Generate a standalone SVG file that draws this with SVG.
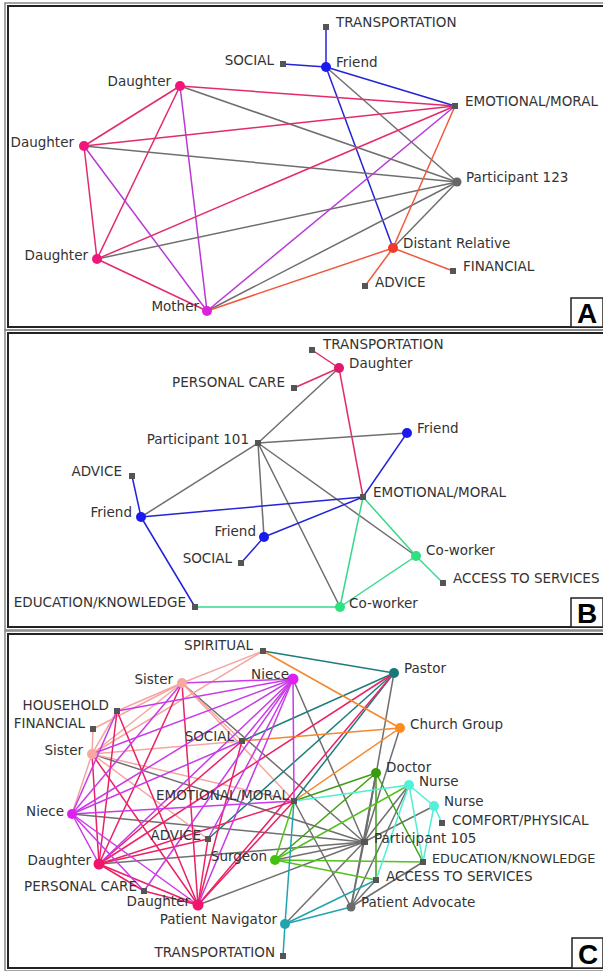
<svg xmlns="http://www.w3.org/2000/svg" width="603" height="971" viewBox="0 0 603 971">
<style>
text{font-family:"DejaVu Sans",Verdana,sans-serif;font-size:13.5px;fill:#333}
.e{text-anchor:end}
line{stroke-width:1.5;fill:none}
.g{stroke:#6f6f6f}
.bl{stroke:#2323d8}
.pk{stroke:#e42a6c}
.pu{stroke:#b838d8}
.rd{stroke:#f2583e}
.gr{stroke:#35d88c}
.sa{stroke:#f5a6a0}
.ni{stroke:#c93ae8}
.dg{stroke:#ec2064}
.te{stroke:#1f7c7c}
.or{stroke:#f5872c}
.dr{stroke:#3f9e14}
.sg{stroke:#52c21e}
.aq{stroke:#50eed2}
.pn{stroke:#20a3ae}
.sq{fill:#555}
.frame{fill:none;stroke:#222;stroke-width:2}
.frame2{fill:none;stroke:#888;stroke-width:1.5}
.lbox{fill:#fff;stroke:#222;stroke-width:1.5}
.big{font-family:"Liberation Sans",Arial,sans-serif;font-weight:bold;font-size:28px;fill:#000}
</style>
<rect x="0" y="0" width="603" height="971" fill="#fff"/>
<g id="frames">
<rect class="frame2" x="5" y="3" width="600" height="327"/>
<rect class="frame" x="8" y="6" width="596" height="321"/>
<rect class="frame2" x="5" y="330" width="600" height="300"/>
<rect class="frame" x="8" y="333" width="596" height="294"/>
<rect class="frame2" x="5" y="631" width="600" height="340"/>
<rect class="frame" x="8" y="634" width="596" height="334"/>
<rect class="lbox" x="571" y="298" width="32" height="29"/>
<text class="big" x="587" y="323" text-anchor="middle">A</text>
<rect class="lbox" x="571" y="598" width="32" height="29"/>
<text class="big" x="587" y="623" text-anchor="middle">B</text>
<rect class="lbox" x="572" y="938" width="31" height="30"/>
<text class="big" x="588" y="964" text-anchor="middle">C</text>
</g>
<g id="connectors">
<line class="bl" x1="326" y1="67" x2="326" y2="27"/>
<line class="bl" x1="326" y1="67" x2="283" y2="64"/>
<line class="bl" x1="326" y1="67" x2="455" y2="106"/>
<line class="bl" x1="326" y1="67" x2="393" y2="248"/>
<line class="g" x1="326" y1="67" x2="457" y2="182"/>
<line class="pk" x1="180" y1="86" x2="455" y2="106"/>
<line class="g" x1="180" y1="86" x2="457" y2="182"/>
<line class="pk" x1="180" y1="86" x2="84" y2="146"/>
<line class="pk" x1="180" y1="86" x2="97" y2="259"/>
<line class="pu" x1="180" y1="86" x2="207" y2="311"/>
<line class="pk" x1="84" y1="146" x2="455" y2="106"/>
<line class="g" x1="84" y1="146" x2="457" y2="182"/>
<line class="pk" x1="84" y1="146" x2="97" y2="259"/>
<line class="pu" x1="84" y1="146" x2="207" y2="311"/>
<line class="pk" x1="97" y1="259" x2="455" y2="106"/>
<line class="g" x1="97" y1="259" x2="457" y2="182"/>
<line class="pk" x1="97" y1="259" x2="207" y2="311"/>
<line class="pu" x1="207" y1="311" x2="455" y2="106"/>
<line class="g" x1="207" y1="311" x2="457" y2="182"/>
<line class="rd" x1="207" y1="311" x2="393" y2="248"/>
<line class="rd" x1="393" y1="248" x2="455" y2="106"/>
<line class="g" x1="393" y1="248" x2="457" y2="182"/>
<line class="rd" x1="393" y1="248" x2="453" y2="271"/>
<line class="rd" x1="393" y1="248" x2="365" y2="286"/>
<line class="pk" x1="339" y1="368" x2="312" y2="350"/>
<line class="pk" x1="339" y1="368" x2="294" y2="388"/>
<line class="pk" x1="339" y1="368" x2="363" y2="497"/>
<line class="g" x1="339" y1="368" x2="258" y2="443"/>
<line class="g" x1="258" y1="443" x2="407" y2="433"/>
<line class="g" x1="258" y1="443" x2="141" y2="517"/>
<line class="g" x1="258" y1="443" x2="264" y2="537"/>
<line class="g" x1="258" y1="443" x2="340" y2="607"/>
<line class="g" x1="258" y1="443" x2="416" y2="556"/>
<line class="bl" x1="407" y1="433" x2="363" y2="497"/>
<line class="bl" x1="141" y1="517" x2="363" y2="497"/>
<line class="bl" x1="141" y1="517" x2="132" y2="476"/>
<line class="bl" x1="141" y1="517" x2="195" y2="607"/>
<line class="bl" x1="264" y1="537" x2="363" y2="497"/>
<line class="bl" x1="264" y1="537" x2="241" y2="563"/>
<line class="gr" x1="363" y1="497" x2="416" y2="556"/>
<line class="gr" x1="363" y1="497" x2="340" y2="607"/>
<line class="gr" x1="416" y1="556" x2="340" y2="607"/>
<line class="gr" x1="416" y1="556" x2="443" y2="583"/>
<line class="gr" x1="340" y1="607" x2="195" y2="607"/>
<line class="g" x1="394" y1="673" x2="364" y2="842"/>
<line class="g" x1="400" y1="728" x2="364" y2="842"/>
<line class="g" x1="293" y1="679" x2="364" y2="842"/>
<line class="g" x1="182" y1="683" x2="364" y2="842"/>
<line class="g" x1="92" y1="754" x2="364" y2="842"/>
<line class="g" x1="72" y1="814" x2="364" y2="842"/>
<line class="g" x1="99" y1="864" x2="364" y2="842"/>
<line class="g" x1="198" y1="905" x2="364" y2="842"/>
<line class="g" x1="376" y1="773" x2="364" y2="842"/>
<line class="g" x1="275" y1="860" x2="364" y2="842"/>
<line class="g" x1="409" y1="785" x2="364" y2="842"/>
<line class="g" x1="434" y1="806" x2="364" y2="842"/>
<line class="g" x1="285" y1="924" x2="364" y2="842"/>
<line class="g" x1="351" y1="907" x2="364" y2="842"/>
<line class="g" x1="351" y1="907" x2="294" y2="801"/>
<line class="g" x1="351" y1="907" x2="376" y2="880"/>
<line class="g" x1="351" y1="907" x2="423" y2="862"/>
<line class="g" x1="351" y1="907" x2="376" y2="773"/>
<line class="g" x1="351" y1="907" x2="409" y2="785"/>
<line class="sa" x1="182" y1="683" x2="263" y2="651"/>
<line class="sa" x1="182" y1="683" x2="117" y2="711"/>
<line class="sa" x1="182" y1="683" x2="93" y2="729"/>
<line class="sa" x1="182" y1="683" x2="92" y2="754"/>
<line class="sa" x1="182" y1="683" x2="294" y2="801"/>
<line class="sa" x1="182" y1="683" x2="242" y2="741"/>
<line class="sa" x1="92" y1="754" x2="263" y2="651"/>
<line class="sa" x1="92" y1="754" x2="93" y2="729"/>
<line class="sa" x1="92" y1="754" x2="117" y2="711"/>
<line class="sa" x1="92" y1="754" x2="294" y2="801"/>
<line class="sa" x1="92" y1="754" x2="242" y2="741"/>
<line class="sa" x1="92" y1="754" x2="72" y2="814"/>
<line class="sa" x1="92" y1="754" x2="208" y2="839"/>
<line class="te" x1="263" y1="651" x2="394" y2="673"/>
<line class="te" x1="394" y1="673" x2="242" y2="741"/>
<line class="te" x1="394" y1="673" x2="208" y2="839"/>
<line class="te" x1="394" y1="673" x2="294" y2="801"/>
<line class="dg" x1="394" y1="673" x2="99" y2="864"/>
<line class="dg" x1="394" y1="673" x2="198" y2="905"/>
<line class="or" x1="263" y1="651" x2="400" y2="728"/>
<line class="or" x1="400" y1="728" x2="242" y2="741"/>
<line class="or" x1="400" y1="728" x2="294" y2="801"/>
<line class="dg" x1="99" y1="864" x2="117" y2="711"/>
<line class="dg" x1="99" y1="864" x2="182" y2="683"/>
<line class="dg" x1="99" y1="864" x2="92" y2="754"/>
<line class="dg" x1="99" y1="864" x2="242" y2="741"/>
<line class="dg" x1="99" y1="864" x2="294" y2="801"/>
<line class="dg" x1="99" y1="864" x2="208" y2="839"/>
<line class="dg" x1="99" y1="864" x2="144" y2="891"/>
<line class="dg" x1="99" y1="864" x2="198" y2="905"/>
<line class="dg" x1="198" y1="905" x2="117" y2="711"/>
<line class="dg" x1="198" y1="905" x2="182" y2="683"/>
<line class="dg" x1="198" y1="905" x2="92" y2="754"/>
<line class="dg" x1="198" y1="905" x2="242" y2="741"/>
<line class="dg" x1="198" y1="905" x2="294" y2="801"/>
<line class="dg" x1="198" y1="905" x2="208" y2="839"/>
<line class="dg" x1="198" y1="905" x2="144" y2="891"/>
<line class="ni" x1="293" y1="679" x2="182" y2="683"/>
<line class="ni" x1="293" y1="679" x2="117" y2="711"/>
<line class="ni" x1="293" y1="679" x2="92" y2="754"/>
<line class="ni" x1="293" y1="679" x2="72" y2="814"/>
<line class="ni" x1="293" y1="679" x2="99" y2="864"/>
<line class="ni" x1="293" y1="679" x2="198" y2="905"/>
<line class="ni" x1="293" y1="679" x2="242" y2="741"/>
<line class="ni" x1="293" y1="679" x2="294" y2="801"/>
<line class="ni" x1="293" y1="679" x2="208" y2="839"/>
<line class="ni" x1="293" y1="679" x2="144" y2="891"/>
<line class="ni" x1="72" y1="814" x2="117" y2="711"/>
<line class="ni" x1="72" y1="814" x2="182" y2="683"/>
<line class="ni" x1="72" y1="814" x2="294" y2="801"/>
<line class="ni" x1="72" y1="814" x2="242" y2="741"/>
<line class="ni" x1="72" y1="814" x2="99" y2="864"/>
<line class="ni" x1="72" y1="814" x2="198" y2="905"/>
<line class="ni" x1="72" y1="814" x2="144" y2="891"/>
<line class="dr" x1="376" y1="773" x2="294" y2="801"/>
<line class="dr" x1="376" y1="773" x2="275" y2="860"/>
<line class="dr" x1="376" y1="773" x2="376" y2="880"/>
<line class="dr" x1="376" y1="773" x2="423" y2="862"/>
<line class="sg" x1="275" y1="860" x2="294" y2="801"/>
<line class="sg" x1="275" y1="860" x2="409" y2="785"/>
<line class="sg" x1="275" y1="860" x2="423" y2="862"/>
<line class="sg" x1="275" y1="860" x2="376" y2="880"/>
<line class="aq" x1="409" y1="785" x2="294" y2="801"/>
<line class="aq" x1="409" y1="785" x2="434" y2="806"/>
<line class="aq" x1="409" y1="785" x2="423" y2="862"/>
<line class="aq" x1="409" y1="785" x2="376" y2="880"/>
<line class="aq" x1="434" y1="806" x2="442" y2="823"/>
<line class="aq" x1="434" y1="806" x2="423" y2="862"/>
<line class="pn" x1="285" y1="924" x2="283" y2="956"/>
<line class="pn" x1="285" y1="924" x2="294" y2="801"/>
<line class="pn" x1="285" y1="924" x2="376" y2="880"/>
<line class="pn" x1="285" y1="924" x2="351" y2="907"/>
</g>
<g id="a-transportation"><rect class="sq" x="323" y="24" width="6" height="6"/><text x="336" y="27">TRANSPORTATION</text></g>
<g id="a-social"><rect class="sq" x="280" y="61" width="6" height="6"/><text class="e" x="274" y="65">SOCIAL</text></g>
<g id="a-friend"><circle cx="326" cy="67" r="5" fill="#1a1aee"/><text x="336" y="67">Friend</text></g>
<g id="a-daughter1"><circle cx="180" cy="86" r="5" fill="#f0167a"/><text class="e" x="171" y="86">Daughter</text></g>
<g id="a-emotional"><rect class="sq" x="452" y="103" width="6" height="6"/><text x="465" y="106">EMOTIONAL/MORAL</text></g>
<g id="a-daughter2"><circle cx="84" cy="146" r="5" fill="#f0167a"/><text class="e" x="74" y="147">Daughter</text></g>
<g id="a-participant"><circle cx="457" cy="182" r="4.5" fill="#666"/><text x="466" y="182">Participant 123</text></g>
<g id="a-daughter3"><circle cx="97" cy="259" r="5" fill="#f0167a"/><text class="e" x="88" y="260">Daughter</text></g>
<g id="a-distant"><circle cx="393" cy="248" r="5" fill="#f23a2a"/><text x="403" y="248">Distant Relative</text></g>
<g id="a-financial"><rect class="sq" x="450" y="268" width="6" height="6"/><text x="463" y="271">FINANCIAL</text></g>
<g id="a-advice"><rect class="sq" x="362" y="283" width="6" height="6"/><text x="375" y="287">ADVICE</text></g>
<g id="a-mother"><circle cx="207" cy="311" r="5" fill="#dd22dd"/><text class="e" x="199" y="311">Mother</text></g>
<g id="b-transportation"><rect class="sq" x="309" y="347" width="6" height="6"/><text x="323" y="349">TRANSPORTATION</text></g>
<g id="b-daughter"><circle cx="339" cy="368" r="5" fill="#e0186e"/><text x="349" y="368">Daughter</text></g>
<g id="b-personalcare"><rect class="sq" x="291" y="385" width="6" height="6"/><text class="e" x="285" y="387">PERSONAL CARE</text></g>
<g id="b-participant"><rect class="sq" x="255" y="440" width="6" height="6"/><text class="e" x="249" y="444">Participant 101</text></g>
<g id="b-friend1"><circle cx="407" cy="433" r="5" fill="#1a1aee"/><text x="417" y="433">Friend</text></g>
<g id="b-advice"><rect class="sq" x="129" y="473" width="6" height="6"/><text class="e" x="122" y="476">ADVICE</text></g>
<g id="b-emotional"><rect class="sq" x="360" y="494" width="6" height="6"/><text x="373" y="497">EMOTIONAL/MORAL</text></g>
<g id="b-friend2"><circle cx="141" cy="517" r="5" fill="#1a1aee"/><text class="e" x="132" y="517">Friend</text></g>
<g id="b-friend3"><circle cx="264" cy="537" r="5" fill="#1a1aee"/><text class="e" x="256" y="536">Friend</text></g>
<g id="b-social"><rect class="sq" x="238" y="560" width="6" height="6"/><text class="e" x="232" y="563">SOCIAL</text></g>
<g id="b-coworker1"><circle cx="416" cy="556" r="5" fill="#2de080"/><text x="426" y="555">Co-worker</text></g>
<g id="b-access"><rect class="sq" x="440" y="580" width="6" height="6"/><text x="453" y="583">ACCESS TO SERVICES</text></g>
<g id="b-education"><rect class="sq" x="192" y="604" width="6" height="6"/><text class="e" x="186" y="607">EDUCATION/KNOWLEDGE</text></g>
<g id="b-coworker2"><circle cx="340" cy="607" r="5" fill="#2de080"/><text x="349" y="608">Co-worker</text></g>
<g id="c-spiritual"><rect class="sq" x="260" y="648" width="6" height="6"/><text class="e" x="253" y="650">SPIRITUAL</text></g>
<g id="c-pastor"><circle cx="394" cy="673" r="5" fill="#177878"/><text x="404" y="673">Pastor</text></g>
<g id="c-sister1"><circle cx="182" cy="683" r="5" fill="#f7a8a0"/><text class="e" x="173" y="684">Sister</text></g>
<g id="c-niece1"><circle cx="293" cy="679" r="5.5" fill="#dd22ee"/><text class="e" x="289" y="679">Niece</text></g>
<g id="c-household"><rect class="sq" x="114" y="708" width="6" height="6"/><text class="e" x="109" y="710">HOUSEHOLD</text></g>
<g id="c-financial"><rect class="sq" x="90" y="726" width="6" height="6"/><text class="e" x="85" y="728">FINANCIAL</text></g>
<g id="c-social"><rect class="sq" x="239" y="738" width="6" height="6"/><text class="e" x="234" y="741">SOCIAL</text></g>
<g id="c-church"><circle cx="400" cy="728" r="5" fill="#ff8c1a"/><text x="410" y="729">Church Group</text></g>
<g id="c-sister2"><circle cx="92" cy="754" r="5" fill="#f7a8a0"/><text class="e" x="83" y="755">Sister</text></g>
<g id="c-doctor"><circle cx="376" cy="773" r="5" fill="#3a9a10"/><text x="386" y="772">Doctor</text></g>
<g id="c-nurse1"><circle cx="409" cy="785" r="5" fill="#55f0d8"/><text x="419" y="786">Nurse</text></g>
<g id="c-emotional"><rect class="sq" x="291" y="798" width="6" height="6"/><text class="e" x="289" y="800">EMOTIONAL/MORAL</text></g>
<g id="c-nurse2"><circle cx="434" cy="806" r="5" fill="#55f0d8"/><text x="444" y="806">Nurse</text></g>
<g id="c-niece2"><circle cx="72" cy="814" r="5" fill="#dd22ee"/><text class="e" x="64" y="816">Niece</text></g>
<g id="c-comfort"><rect class="sq" x="439" y="820" width="6" height="6"/><text x="452" y="825">COMFORT/PHYSICAL</text></g>
<g id="c-advice"><rect class="sq" x="205" y="836" width="6" height="6"/><text class="e" x="201" y="840">ADVICE</text></g>
<g id="c-participant"><rect class="sq" x="361" y="839" width="7" height="6"/><text x="374" y="843">Participant 105</text></g>
<g id="c-surgeon"><circle cx="275" cy="860" r="5" fill="#44c010"/><text class="e" x="267" y="861">Surgeon</text></g>
<g id="c-education"><rect class="sq" x="420" y="859" width="6" height="6"/><text x="432" y="863" style="font-size:12.8px">EDUCATION/KNOWLEDGE</text></g>
<g id="c-daughter1"><circle cx="99" cy="864" r="5.5" fill="#f0146a"/><text class="e" x="91" y="865">Daughter</text></g>
<g id="c-access"><rect class="sq" x="373" y="877" width="6" height="6"/><text x="386" y="881">ACCESS TO SERVICES</text></g>
<g id="c-personalcare"><rect class="sq" x="141" y="888" width="6" height="6"/><text class="e" x="137" y="891">PERSONAL CARE</text></g>
<g id="c-daughter2"><circle cx="198" cy="905" r="5.5" fill="#f0146a"/><text class="e" x="190" y="906">Daughter</text></g>
<g id="c-advocate"><circle cx="351" cy="907" r="4.5" fill="#6a6a6a"/><text x="361" y="907">Patient Advocate</text></g>
<g id="c-navigator"><circle cx="285" cy="924" r="5" fill="#1fa5b0"/><text class="e" x="277" y="924">Patient Navigator</text></g>
<g id="c-transportation"><rect class="sq" x="280" y="953" width="6" height="6"/><text class="e" x="275" y="957">TRANSPORTATION</text></g>
</svg>
